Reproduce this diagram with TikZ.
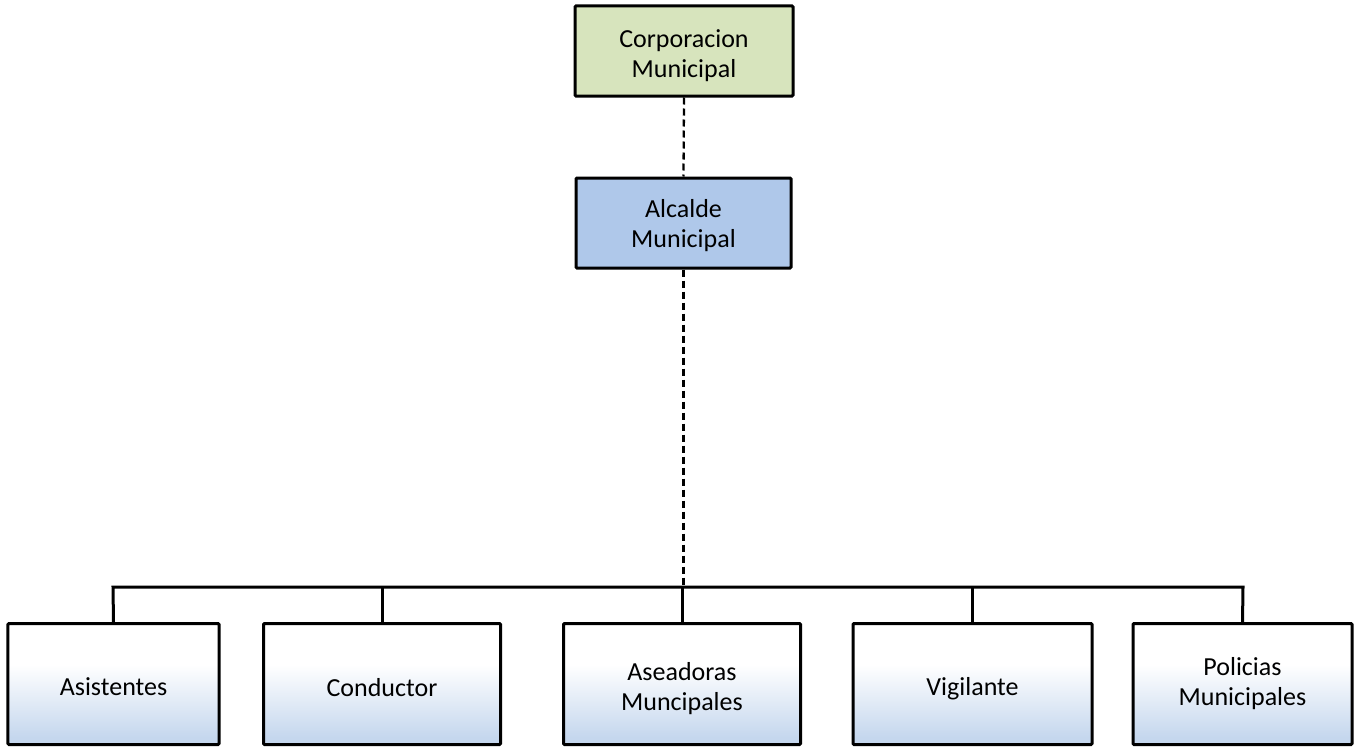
\documentclass[tikz,border=0pt]{standalone}
\usepackage{fontspec}
\setmainfont{Carlito}
\definecolor{topgreen}{HTML}{D7E4BD}
\definecolor{alcblue}{HTML}{AFC8EA}
\definecolor{gradblue}{HTML}{C5D7EE}
\pgfdeclareverticalshading{boxgrad}{100bp}{color(0bp)=(gradblue); color(28bp)=(gradblue); color(58bp)=(white); color(100bp)=(white)}
\newcommand\lowtxt[2]{\raisebox{-#1bp}[\height][\depth]{#2}}
\begin{document}
\begin{tikzpicture}[x=1bp,y=-1bp,
  box/.style={draw=black, line width=3bp, rounded corners=1bp, align=center,
    font=\fontsize{26bp}{30bp}\selectfont, inner sep=0pt},
  topbox/.style={box, minimum width=218bp, minimum height=90bp},
  lowbox/.style={box, shading=boxgrad, minimum height=121bp},
  tie/.style={line width=3bp},
  dashlink/.style={line width=2.3bp, dash pattern=on 7bp off 4bp}]
\useasboundingbox (0,0) rectangle (1360,748);
\node[topbox, fill=topgreen] (corp) at (684,51) {\lowtxt{5}{Corporacion}\\\lowtxt{5}{Municipal}};
\node[topbox, fill=alcblue, minimum width=215bp] (alc) at (683.5,223) {\lowtxt{3}{Alcalde}\\\lowtxt{3}{Municipal}};
\node[lowbox, minimum width=211bp] (asi) at (113.5,684) {\lowtxt{3}{Asistentes}};
\node[lowbox, minimum width=237bp] (con) at (382,684) {\lowtxt{4}{Conductor}};
\node[lowbox, minimum width=237bp] (ase) at (682,684) {\lowtxt{5}{Aseadoras}\\\lowtxt{5}{Muncipales}};
\node[lowbox, minimum width=239bp] (vig) at (972.5,684) {\lowtxt{5}{Vigilante}};
\node[lowbox, minimum width=219bp] (pol) at (1242.5,684) {Policias\\Municipales};
\coordinate (barL) at (113,587);
\coordinate (barR) at (1243,587);
\draw[dashlink] (corp.south) -- (alc.north);
\draw[dashlink] (alc.south) -- (alc.south |- barL);
\draw[tie] (asi.north) -- (barL) -- (barR) -- (pol.north);
\draw[tie] (con.north) -- (con.north |- barL);
\draw[tie] (ase.north) -- (ase.north |- barL);
\draw[tie] (vig.north) -- (vig.north |- barL);
\end{tikzpicture}
\end{document}
